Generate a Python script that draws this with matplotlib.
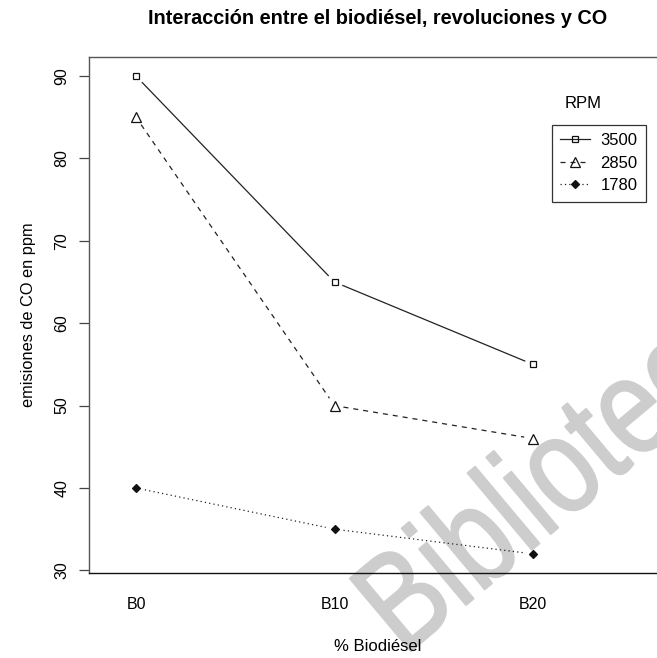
import numpy as np
import matplotlib.pyplot as plt
from matplotlib.textpath import TextPath
from matplotlib.patches import PathPatch
from matplotlib.font_manager import FontProperties
from matplotlib.transforms import Affine2D, IdentityTransform

plt.rcParams['font.family'] = ['Liberation Sans', 'DejaVu Sans']

niveles = ['B0', 'B10', 'B20']
rpm = ['3500', '2850', '1780']
co_3500 = [90, 65, 55]
co_2850 = [85, 50, 46]
co_1780 = [40, 35, 32]

W, H = 657, 658
fig = plt.figure(figsize=(W / 100, H / 100), dpi=100)
ax = fig.add_axes([89 / W, (H - 573) / H, 578 / W, 516 / H])
ax.patch.set_alpha(0)

x = np.arange(1, len(niveles) + 1)
ax.set_xlim(0.763, 0.763 + 578 / 198.5)
ax.set_ylim(29.68, 92.32)

estilos = [
    (co_3500, '-', 's', 'none', 5),
    (co_2850, (0, (4, 4)), '^', 'none', 7.5),
    (co_1780, (0, (1, 2.5)), 'D', '#111111', 3.8),
]
gap = 9  # px, hueco entre linea y punto (tipo "b" de R)
handles = []
for serie, ls, mk, fc, ms in estilos:
    pts = ax.transData.transform(np.column_stack([x, serie]))
    for p0, p1 in zip(pts[:-1], pts[1:]):
        u = (p1 - p0) / np.hypot(*(p1 - p0))
        seg = ax.transData.inverted().transform([p0 + u * gap, p1 - u * gap])
        ax.plot(seg[:, 0], seg[:, 1], linestyle=ls, color='#222222', lw=0.9)
    ax.plot(x, serie, linestyle='none', marker=mk, ms=ms, mfc=fc,
            mec='#111111', mew=0.9, zorder=4)
    handles.append(ax.plot([], [], linestyle=ls, color='#222222', lw=0.9,
                           marker=mk, ms=ms, mfc=fc, mec='#111111', mew=0.9)[0])

ax.set_xticks(x)
ax.set_xticklabels(niveles, fontsize=11.5)
ax.set_yticks(np.arange(30, 91, 10))
ax.set_yticklabels([str(v) for v in range(30, 91, 10)], fontsize=11.5,
                   rotation=90, va='center')
ax.tick_params(axis='x', length=0, pad=17)
ax.tick_params(axis='y', length=7, width=0.9, color='#444444', pad=7)
for s in ax.spines.values():
    s.set_linewidth(1.0)
ax.spines['left'].set_color('#555555')
ax.spines['top'].set_color('#555555')
ax.spines['bottom'].set_color('#111111')

ax.set_xlabel('% Biodiésel', fontsize=12, labelpad=20)
ax.set_ylabel('emisiones de CO en ppm', fontsize=11.8, labelpad=13)
fig.text(378 / W, 1 - 18 / H, 'Interacción entre el biodiésel, revoluciones y CO',
         ha='center', va='center', fontsize=14.3, fontweight='bold')

leg = ax.legend(handles, rpm, loc='upper left',
                bbox_to_anchor=(552 / W, 1 - 125 / H),
                bbox_transform=fig.transFigure, borderaxespad=0,
                fontsize=12, handlelength=1.8, handletextpad=0.6,
                labelspacing=0.45, borderpad=0.5, fancybox=False,
                framealpha=1, edgecolor='#333333')
leg.get_frame().set_linewidth(0.9)
fig.text(565 / W, 1 - 103 / H, 'RPM', ha='left', va='center', fontsize=12)

# marca de agua (texto girado, en pixeles)
tp = TextPath((0, 0), 'Biblioteca', size=138,
              prop=FontProperties(family='Liberation Sans'))
tr = Affine2D().scale(0.8, 1.0).rotate_deg(40).translate(404, H - 657)
marca = PathPatch(tr.transform_path(tp), facecolor='#cdcdcd',
                  edgecolor='#cdcdcd', lw=1.5, joinstyle='round',
                  transform=IdentityTransform(), zorder=-1)
fig.add_artist(marca)

fig.savefig('out.png', dpi=100)
